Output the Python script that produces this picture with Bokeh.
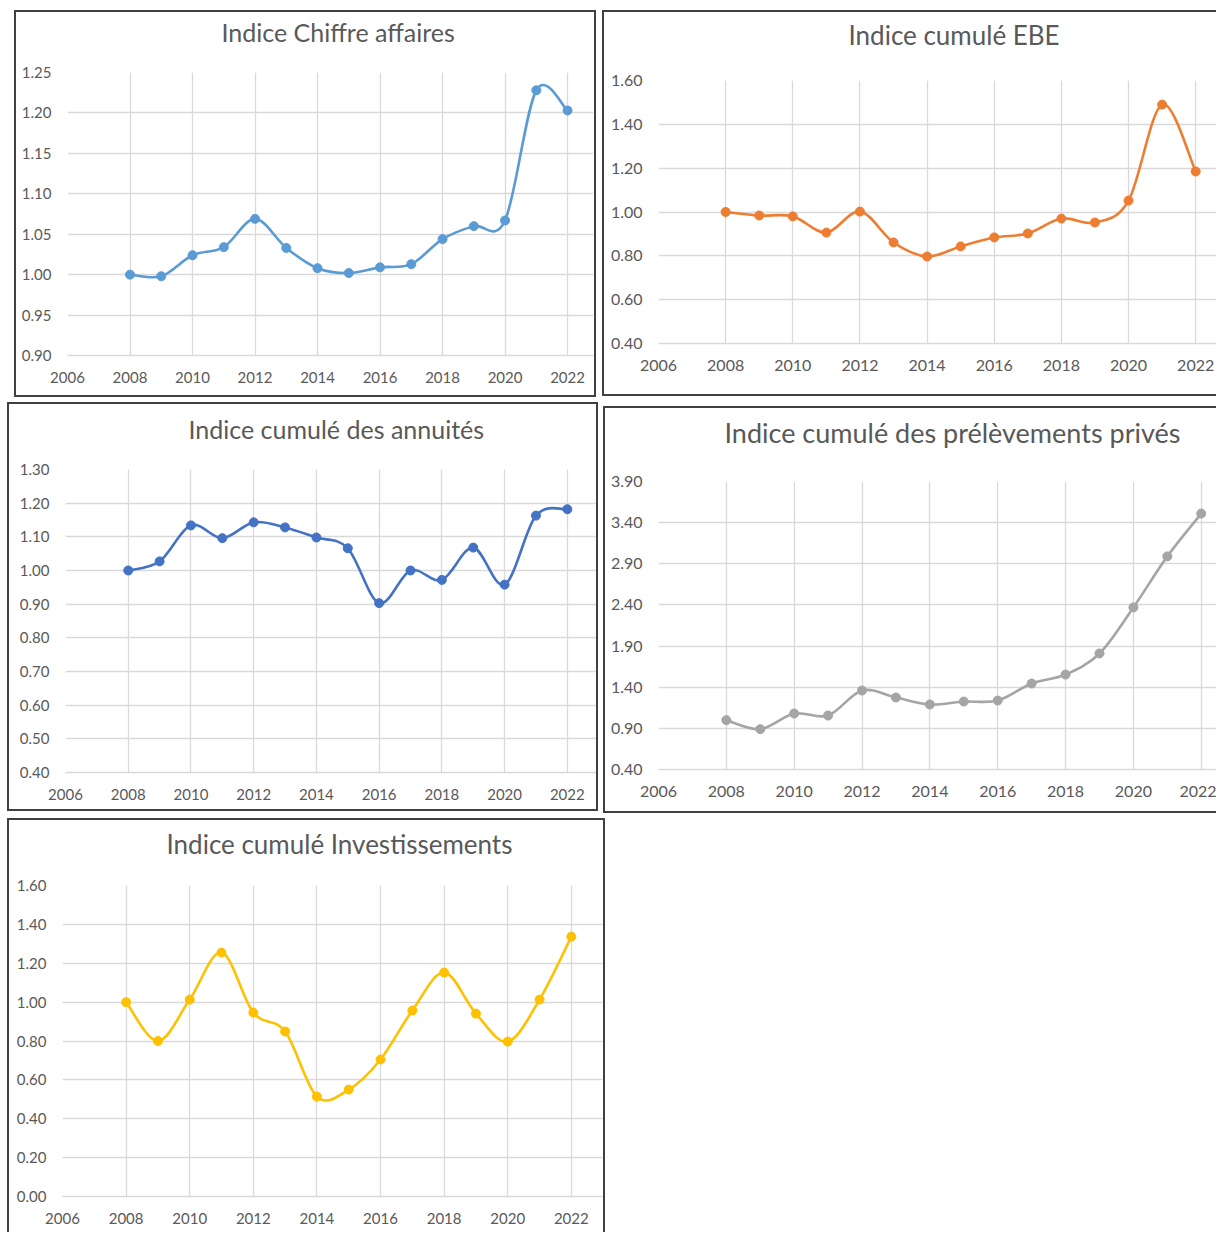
from bokeh.plotting import figure
from bokeh.layouts import row, column
from bokeh.models import Spacer, FixedTicker, NumeralTickFormatter, Range1d, Title
from bokeh.embed import file_html
from bokeh.resources import INLINE

# ---- data ----
years = [2008, 2009, 2010, 2011, 2012, 2013, 2014, 2015, 2016, 2017, 2018, 2019, 2020, 2021, 2022]
x_ticks = [2006, 2008, 2010, 2012, 2014, 2016, 2018, 2020, 2022]

ca = [1.000, 0.998, 1.024, 1.034, 1.069, 1.033, 1.008, 1.002, 1.009, 1.013, 1.044, 1.060, 1.067, 1.228, 1.203]
ebe = [1.00, 0.984, 0.980, 0.906, 1.002, 0.861, 0.797, 0.843, 0.884, 0.902, 0.970, 0.952, 1.052, 1.490, 1.185]
annuites = [1.000, 1.027, 1.134, 1.096, 1.143, 1.128, 1.098, 1.066, 0.903, 1.000, 0.972, 1.068, 0.958, 1.163, 1.182]
prelevements = [1.00, 0.89, 1.08, 1.056, 1.36, 1.275, 1.19, 1.226, 1.238, 1.445, 1.554, 1.81, 2.37, 2.99, 3.51]
investissements = [1.00, 0.80, 1.013, 1.255, 0.946, 0.849, 0.514, 0.550, 0.705, 0.957, 1.152, 0.941, 0.797, 1.013, 1.337]

ticks_ca = [0.90, 0.95, 1.00, 1.05, 1.10, 1.15, 1.20, 1.25]
ticks_ebe = [0.40, 0.60, 0.80, 1.00, 1.20, 1.40, 1.60]
ticks_ann = [0.40, 0.50, 0.60, 0.70, 0.80, 0.90, 1.00, 1.10, 1.20, 1.30]
ticks_pre = [0.40, 0.90, 1.40, 1.90, 2.40, 2.90, 3.40, 3.90]
ticks_inv = [0.00, 0.20, 0.40, 0.60, 0.80, 1.00, 1.20, 1.40, 1.60]

FONT = "Lato"
TXT = "#595959"
GRID = "#d9d9d9"
BORDER = "#404040"
BW = 2


def bezier_ctrl(xs, ys):
    n = len(xs)
    out = dict(x0=[], y0=[], x1=[], y1=[], cx0=[], cy0=[], cx1=[], cy1=[])
    for i in range(n - 1):
        p0 = i - 1 if i > 0 else i
        p3 = i + 2 if i + 2 < n else i + 1
        out["x0"].append(xs[i]); out["y0"].append(ys[i])
        out["x1"].append(xs[i + 1]); out["y1"].append(ys[i + 1])
        out["cx0"].append(xs[i] + (xs[i + 1] - xs[p0]) / 6.0)
        out["cy0"].append(ys[i] + (ys[i + 1] - ys[p0]) / 6.0)
        out["cx1"].append(xs[i + 1] - (xs[p3] - xs[i]) / 6.0)
        out["cy1"].append(ys[i + 1] - (ys[p3] - ys[i]) / 6.0)
    return out


def chart(title, vals, color, yticks, box, frame, x_end, title_pos,
          title_size, tick_size, right_border=True, bottom_border=True):
    bl, bt, br, bb = box          # outer box (screen px)
    fl, ft, fr, fb = frame        # plot frame (screen px)
    w = br - bl
    h = bb - bt
    styles = {"border-left": f"{BW}px solid {BORDER}", "border-top": f"{BW}px solid {BORDER}"}
    styles["border-right"] = f"{BW}px solid {BORDER}" if right_border else "none"
    styles["border-bottom"] = f"{BW}px solid {BORDER}" if bottom_border else "none"
    y0, y1 = yticks[0], yticks[-1]
    cl, ct = bl + BW, bt + BW          # canvas origin (inside the left/top border)
    mtop = ft - ct
    p = figure(width=w, height=h, output_backend="svg", toolbar_location=None,
               title=None,
               x_range=Range1d(2006, x_end), y_range=Range1d(y0, y1),
               min_border_left=fl - cl, min_border_right=max(0, (cl + w) - fr),
               min_border_top=mtop, min_border_bottom=(ct + h) - fb,
               styles=styles)
    p.outline_line_color = None
    p.background_fill_color = "white"
    p.border_fill_color = "white"

    tleft, tcy = title_pos
    gap = ft - tcy
    c = round(title_size * 0.52)
    X = gap - c
    # blank slot (white, 1px) between the frame and the title, to lift the title
    p.add_layout(Title(text=".", text_font_size="1px", text_color="white",
                       standoff=max(0, X - 3)), "above")
    p.add_layout(Title(text=title, align="left", offset=tleft - fl, standoff=0,
                       text_font=FONT, text_font_size=f"{title_size}px",
                       text_font_style="normal", text_color=TXT), "above")

    p.xaxis.ticker = FixedTicker(ticks=x_ticks)
    p.yaxis.ticker = FixedTicker(ticks=yticks)
    p.yaxis.formatter = NumeralTickFormatter(format="0.00")
    for ax in (p.xaxis, p.yaxis):
        ax.major_tick_line_color = None
        ax.minor_tick_line_color = None
        ax.major_label_text_font = FONT
        ax.major_label_text_font_size = f"{tick_size}px"
        ax.major_label_text_color = TXT
    p.xaxis.major_label_standoff = 10
    p.yaxis.major_label_standoff = 10
    p.yaxis.axis_line_color = None
    p.xaxis.axis_line_color = GRID
    p.xaxis.axis_line_width = 1.5
    p.xgrid.ticker = FixedTicker(ticks=x_ticks)
    p.ygrid.ticker = FixedTicker(ticks=yticks)
    p.xgrid.grid_line_color = GRID
    p.ygrid.grid_line_color = GRID
    p.xgrid.grid_line_width = 1.3
    p.ygrid.grid_line_width = 1.3

    bz = bezier_ctrl(years, vals)
    p.bezier(x0=bz["x0"], y0=bz["y0"], x1=bz["x1"], y1=bz["y1"],
             cx0=bz["cx0"], cy0=bz["cy0"], cx1=bz["cx1"], cy1=bz["cy1"],
             line_color=color, line_width=2.6, line_cap="round")
    p.scatter(years, vals, size=9, fill_color=color, line_color=color)
    return p


p1 = chart("Indice Chiffre affaires", ca, "#5B9BD5", ticks_ca,
           (14, 10, 596, 397), (67, 72, 593, 355), 2022.83, (221, 33), 25, 15)
p2 = chart("Indice cumulé EBE", ebe, "#ED7D31", ticks_ebe,
           (602, 10, 1216, 396), (658, 80, 1216, 343), 2022.62, (848, 36), 26, 16,
           right_border=False)
p3 = chart("Indice cumulé des annuités", annuites, "#4472C4", ticks_ann,
           (7, 402, 598, 811), (65, 469, 596, 772), 2022.93, (188, 430), 25, 15)
p4 = chart("Indice cumulé des prélèvements privés", prelevements, "#A5A5A5", ticks_pre,
           (603, 406, 1216, 813), (658, 481, 1216, 769), 2022.45, (724, 434), 27, 16,
           right_border=False)
p5 = chart("Indice cumulé Investissements", investissements, "#FFC000", ticks_inv,
           (7, 818, 605, 1232), (62, 885, 602, 1196), 2022.98, (166, 845), 26, 15,
           bottom_border=False)

r1 = row(Spacer(width=14, height=1), column(Spacer(width=1, height=10), p1),
         Spacer(width=6, height=1), column(Spacer(width=1, height=10), p2))
r2 = row(Spacer(width=7, height=1), column(Spacer(width=1, height=5), p3),
         Spacer(width=5, height=1), column(Spacer(width=1, height=9), p4))
r3 = row(Spacer(width=7, height=1), column(Spacer(width=1, height=5), p5))
layout = column(r1, r2, r3)

open("out.html", "w").write(file_html(layout, INLINE))
